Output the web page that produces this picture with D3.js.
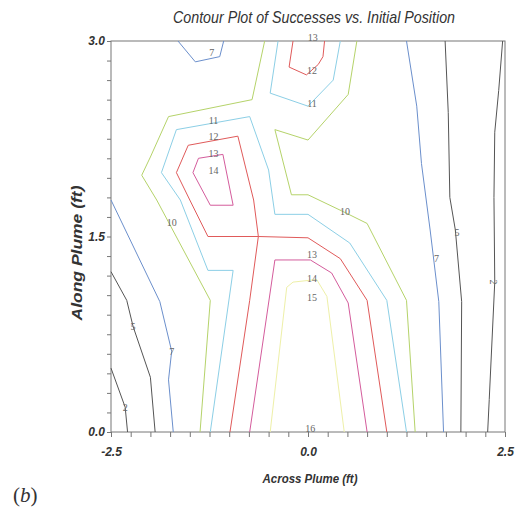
<!DOCTYPE html>
<html>
<head>
<meta charset="utf-8">
<script src="https://cdn.jsdelivr.net/npm/d3@7"></script>
<style>
body { margin: 0; background: #fff; }
</style>
</head>
<body>
<div id="chart-area"></div>
<script>

// contour lines, points are [across ft, along ft]
let line2Left  = [[-2.5,0.49],[-2.32,0.19],[-2.29,0]];
let line2Right = [[2.47,3.0],[2.42,2.62],[2.37,2.3],[2.36,1.8],[2.37,1.15],[2.3,0.25],[2.28,0]];
let line5Left  = [[-2.5,1.23],[-2.3,1.01],[-2.22,0.81],[-2.0,0.42],[-1.94,0]];
let line5Right = [[1.74,3.0],[1.78,2.45],[1.8,1.8],[1.87,1.55],[1.95,1.0],[1.94,0]];
let line7Top   = [[-1.65,3.0],[-1.43,2.84],[-1.12,2.88],[-1.07,3.0]];
let line7Left  = [[-2.5,1.78],[-1.88,1.0],[-1.73,0.62],[-1.77,0.4],[-1.71,0]];
let line7Right = [[1.25,3.0],[1.38,2.5],[1.44,2.06],[1.55,1.55],[1.66,1.0],[1.72,0]];
let line10Left = [[-0.55,3.0],[-0.71,2.55],[-1.77,2.42],[-2.0,2.11],[-2.11,1.97],[-1.92,1.78],[-1.24,1.01],[-1.37,0]];
let line10Right = [[0.62,3.0],[0.51,2.59],[0.0,2.24],[-0.42,2.32],[-0.21,1.82],[0.0,1.82],[0.45,1.69],[0.75,1.6],[1.25,1.01],[1.36,0]];
let line11Top  = [[-0.38,3.0],[-0.48,2.6],[0.0,2.5],[0.32,2.7],[0.41,3.0]];
let line11Main = [[-1.24,0],[-0.95,1.24],[-1.27,1.24],[-1.62,1.78],[-1.86,1.99],[-1.67,2.32],[-0.74,2.42],
                  [-0.5,2.01],[-0.42,1.67],[0.0,1.67],[0.53,1.45],[1.0,1.01],[1.25,0]];
let line12Top  = [[-0.19,3.0],[-0.24,2.8],[-0.02,2.74],[0.13,2.82],[0.19,2.88],[0.21,3.0]];
let line12Loop = [[-0.63,1.5],[-0.69,1.78],[-0.89,2.27],[-1.52,2.2],[-1.67,1.99],[-1.5,1.78],[-1.27,1.5],[-0.63,1.5]];
let line12Right = [[-0.63,1.5],[0.0,1.49],[0.41,1.33],[0.75,1.01],[1.0,0]];
let line12Down = [[-0.63,1.5],[-0.74,1.01],[-0.99,0]];
let line13Loop = [[-1.39,2.1],[-1.08,2.13],[-0.95,1.74],[-1.24,1.74],[-1.46,1.99],[-1.39,2.1]];
let line13Low  = [[-0.74,0],[-0.42,1.32],[0.03,1.32],[0.3,1.22],[0.51,0.99],[0.75,0]];
let line15     = [[-0.48,0],[-0.27,1.11],[-0.19,1.15],[0.11,1.17],[0.24,1.04],[0.46,0]];

let contourLines = [
    {level: 2, points: line2Left}, {level: 2, points: line2Right},
    {level: 5, points: line5Left}, {level: 5, points: line5Right},
    {level: 7, points: line7Top}, {level: 7, points: line7Left}, {level: 7, points: line7Right},
    {level: 10, points: line10Left}, {level: 10, points: line10Right},
    {level: 11, points: line11Top}, {level: 11, points: line11Main},
    {level: 12, points: line12Top}, {level: 12, points: line12Loop},
    {level: 12, points: line12Right}, {level: 12, points: line12Down},
    {level: 13, points: line13Loop}, {level: 13, points: line13Low},
    {level: 15, points: line15}
];

// [text, across ft, along ft]
let contourLabels = [
    ["7",-1.22,2.91], ["13",0.06,3.03], ["12",0.05,2.77], ["11",0.05,2.52],
    ["11",-1.2,2.39], ["12",-1.2,2.27], ["13",-1.2,2.14], ["14",-1.2,2.01],
    ["10",-1.73,1.61], ["10",0.47,1.69], ["13",0.05,1.36], ["14",0.05,1.18],
    ["15",0.05,1.03], ["16",0.03,0.03], ["7",1.63,1.33], ["5",1.89,1.53],
    ["2",2.35,1.15], ["5",-2.22,0.81], ["7",-1.73,0.62], ["2",-2.32,0.19]
];

let xTicks = d3.range(21).map(i => -2.5 + i * 0.25);
let yTicks = d3.range(21).map(i => i * 0.15);
let xTickLabels = {"-2.5": "-2.5", "0": "0.0", "2.5": "2.5"};
let yTickLabels = {"0": "0.0", "150": "1.5", "300": "3.0"};

let levelColors = {2: "#555", 5: "#555", 7: "#6b8fcc", 10: "#b5d36a", 11: "#8ccfe6",
                   12: "#e05a5a", 13: "#d45c9c", 15: "#eef0a8"};

let margin = {top: 41, right: 10, bottom: 78, left: 111};
let width = 394, height = 391;

let svg = d3.select("#chart-area")
    .append("svg")
    .attr("width", 515)
    .attr("height", 510);

let g = svg.append("g")
    .attr("transform", "translate(" + margin.left + "," + margin.top + ")");

let x = d3.scaleLinear().domain([-2.5, 2.5]).range([0, width]);
let y = d3.scaleLinear().domain([0, 3]).range([height, 0]);

// axes
let xAxis = d3.axisBottom(x)
    .tickValues(xTicks)
    .tickSize(5)
    .tickPadding(10)
    .tickFormat(d => xTickLabels[String(Math.round(d * 100) / 100)] || "");
let yAxis = d3.axisLeft(y)
    .tickValues(yTicks)
    .tickSize(4)
    .tickPadding(2)
    .tickFormat(d => yTickLabels[String(Math.round(d * 100))] || "");

g.append("g").attr("class", "axis")
    .attr("transform", "translate(0," + height + ")")
    .call(xAxis);
g.append("g").attr("class", "axis")
    .call(yAxis);

g.selectAll(".axis .domain").remove();
g.selectAll(".axis line").attr("stroke", "#777");
g.selectAll(".axis text")
    .attr("fill", "#333")
    .style("font-family", "'Liberation Sans', Arial, sans-serif")
    .style("font-size", "12px")
    .style("font-weight", "bold")
    .style("font-style", "italic");

// frame
g.append("rect")
    .attr("width", width)
    .attr("height", height)
    .attr("fill", "none")
    .attr("stroke", "#777");

// contour lines
let lineGen = d3.line().x(d => x(d[0])).y(d => y(d[1]));

g.selectAll("path.contour")
    .data(contourLines)
    .enter().append("path")
    .attr("class", "contour")
    .attr("d", d => lineGen(d.points))
    .attr("fill", "none")
    .attr("stroke", d => levelColors[d.level])
    .attr("stroke-width", 1);

// contour labels
g.selectAll("text.clabel")
    .data(contourLabels)
    .enter().append("text")
    .attr("class", "clabel")
    .attr("transform", d => "translate(" + x(d[1]) + "," + y(d[2]) + ")" + (d[1] > 2.2 ? " rotate(90)" : ""))
    .attr("text-anchor", "middle")
    .attr("dy", "0.35em")
    .style("font-family", "'Liberation Serif', serif")
    .style("font-size", "10px")
    .attr("fill", "#666")
    .text(d => d[0]);

// titles
svg.append("text")
    .attr("x", 314)
    .attr("y", 23)
    .attr("text-anchor", "middle")
    .attr("textLength", 282)
    .attr("lengthAdjust", "spacingAndGlyphs")
    .style("font-family", "'Liberation Sans', Arial, sans-serif")
    .style("font-size", "17px")
    .style("font-style", "italic")
    .attr("fill", "#333")
    .text("Contour Plot of Successes vs. Initial Position");

svg.append("text")
    .attr("x", 310)
    .attr("y", 483)
    .attr("text-anchor", "middle")
    .attr("textLength", 95)
    .attr("lengthAdjust", "spacingAndGlyphs")
    .style("font-family", "'Liberation Sans', Arial, sans-serif")
    .style("font-size", "13px")
    .style("font-weight", "bold")
    .style("font-style", "italic")
    .attr("fill", "#333")
    .text("Across Plume (ft)");

svg.append("text")
    .attr("transform", "translate(82,253) rotate(-90)")
    .attr("text-anchor", "middle")
    .attr("textLength", 135)
    .attr("lengthAdjust", "spacingAndGlyphs")
    .style("font-family", "'Liberation Sans', Arial, sans-serif")
    .style("font-size", "15px")
    .style("font-weight", "bold")
    .style("font-style", "italic")
    .attr("fill", "#333")
    .text("Along Plume (ft)");

let sub = svg.append("text")
    .attr("x", 13)
    .attr("y", 502)
    .style("font-family", "'Liberation Serif', serif")
    .style("font-size", "21px")
    .attr("fill", "#333");
sub.append("tspan").text("(");
sub.append("tspan").style("font-style", "italic").text("b");
sub.append("tspan").text(")");

</script>
</body>
</html>
